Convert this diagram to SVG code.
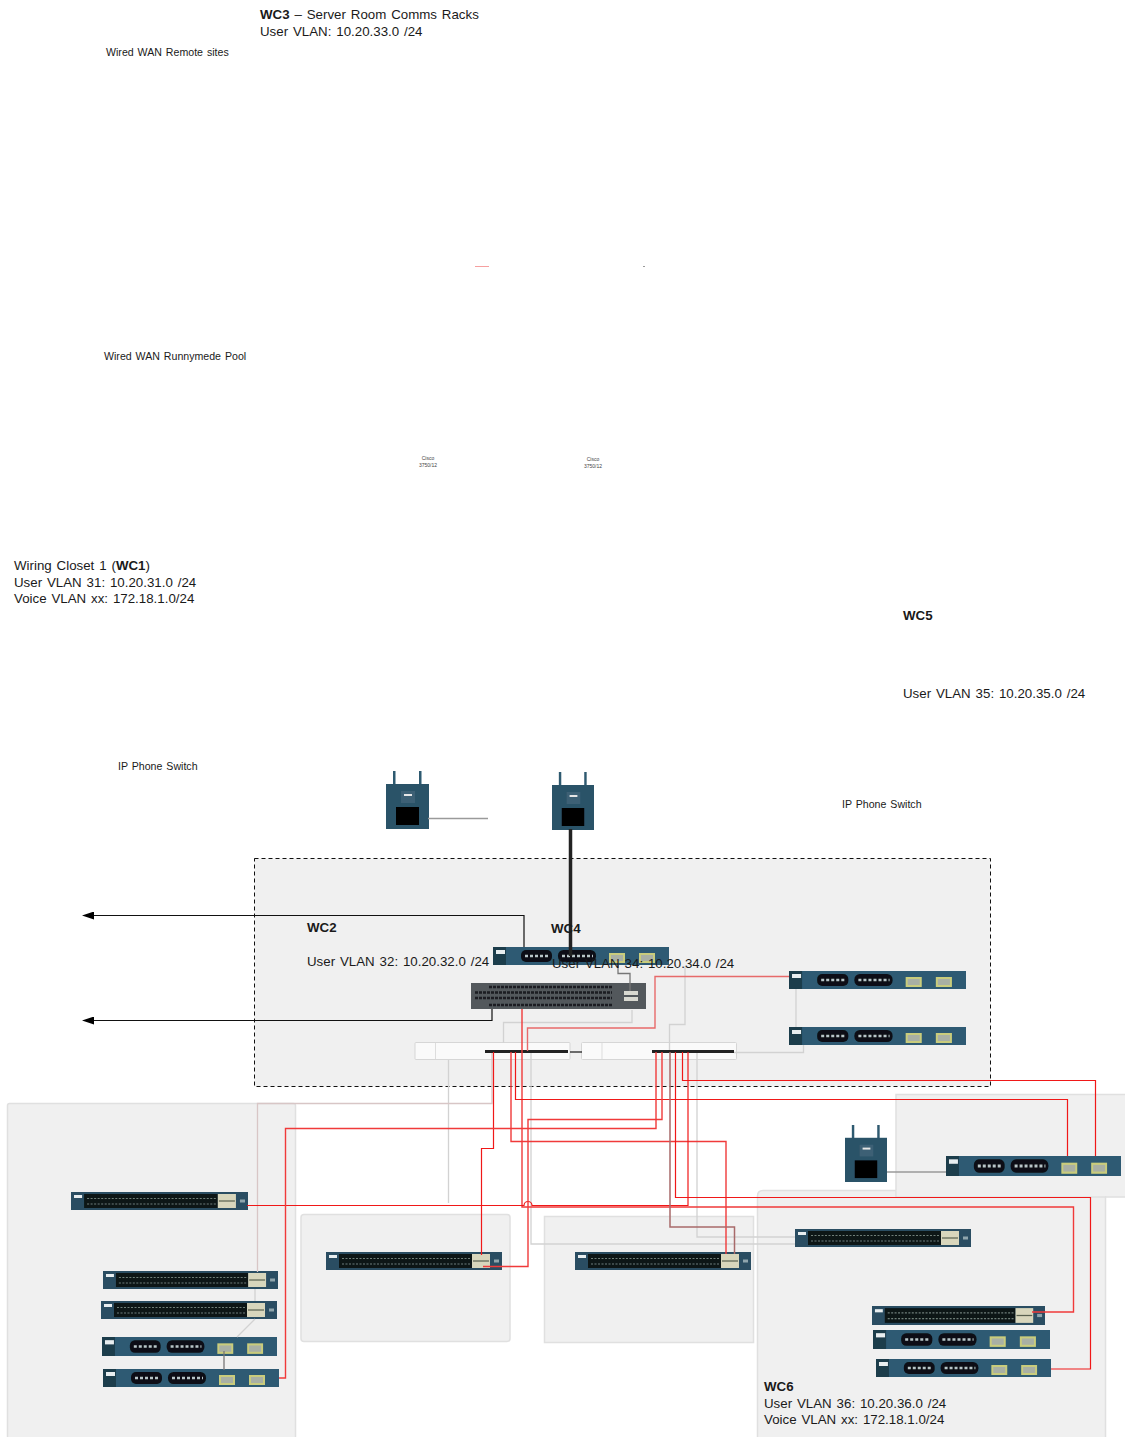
<svg xmlns="http://www.w3.org/2000/svg" width="1125" height="1437" viewBox="0 0 1125 1437">
<style>
text{font-family:"Liberation Sans",Arial,sans-serif;fill:#1a1a1a;word-spacing:1.2px}
.t{font-size:13.3px}.s{font-size:10.6px;word-spacing:1px}.c{font-size:5px;text-anchor:middle;fill:#444;word-spacing:0}
.b{font-weight:bold}
.panel{fill:#f0f0f0;stroke:#e0e0e0;stroke-width:1.5}
.w{fill:none;stroke-linejoin:miter}
.r{stroke:#f01818;stroke-width:1.2}
.p{stroke:#f03a3a;stroke-width:1.4}
.g{stroke:#d2d2d2;stroke-width:1.3}
.dg{stroke:#777;stroke-width:1.3}
.k{stroke:#111;stroke-width:1.2}
.sw{filter:url(#soft)}
</style>
<defs>
<filter id="soft" x="-5%" y="-20%" width="110%" height="140%"><feGaussianBlur stdDeviation="0.5"/></filter>
<symbol id="swA" viewBox="0 0 176 18" preserveAspectRatio="none">
<rect width="176" height="18" fill="#2c4e62"/>
<rect x="3" y="3" width="8" height="3" fill="#e8eef0"/>
<rect x="13" y="2" width="133" height="14" fill="#0f1719"/>
<path d="M16 6.500H145M16 12H145" stroke="#6f7f78" stroke-width="1.200" stroke-dasharray="2 1.500" fill="none"/>
<rect x="146" y="2" width="18" height="14" fill="#d8d6bc"/>
<path d="M147 9H163" stroke="#59604f" stroke-width="1.200"/>
<path d="M168 9H173" stroke="#8fa5ad" stroke-width="3"/>
</symbol>
<symbol id="swB" viewBox="0 0 176 18" preserveAspectRatio="none">
<rect width="176" height="18" fill="#2e5a73"/>
<rect width="13" height="18" fill="#1f3c4c"/>
<rect x="3" y="3" width="9" height="4" fill="#e8eef0"/>
<rect x="28" y="3" width="31" height="12" rx="5" fill="#0c1114"/>
<rect x="65" y="3" width="38" height="12" rx="5.500" fill="#0c1114"/>
<path d="M32 9H56M69 9H100" stroke="#b8c4c8" stroke-width="2.500" stroke-dasharray="3 2" fill="none"/>
<rect x="116" y="6" width="16" height="10" fill="#c9cc7c"/>
<rect x="146" y="6" width="16" height="10" fill="#c9cc7c"/>
<rect x="118" y="8" width="12" height="6" fill="#a9b0a4"/>
<rect x="148" y="8" width="12" height="6" fill="#a9b0a4"/>
</symbol>
<symbol id="ap" viewBox="0 0 43 58" preserveAspectRatio="none">
<path d="M7 0H9.500V14H7ZM33 0H35.500V14H33Z" fill="#2f5a70"/>
<rect y="13" width="43" height="45" fill="#2a5268"/>
<rect x="15" y="20" width="14" height="12" fill="#3c6074"/>
<rect x="18" y="23" width="8" height="2" fill="#e6e6e6"/>
<rect x="10" y="36" width="23" height="18" fill="#000"/>
</symbol>
<marker id="arr" viewBox="0 0 12 8" refX="0" refY="4" markerWidth="12" markerHeight="8" orient="auto" markerUnits="userSpaceOnUse"><path d="M0 0L12 4L0 8Z" fill="#000"/></marker>
</defs>

<g id="wc-backbone-area"><rect x="254.500" y="858.500" width="736" height="228" fill="#f0f0f0" stroke="#111" stroke-width="1" stroke-dasharray="4 3"/></g>
<g id="wc1-area"><rect class="panel" x="7.500" y="1103.500" width="288" height="335" rx="2"/></g>
<g id="wc2-area"><rect class="panel" x="301" y="1214.500" width="209" height="127" rx="3"/></g>
<g id="wc4-area"><rect class="panel" x="544.500" y="1216.500" width="209" height="126"/></g>
<g id="wc5-area"><path class="panel" d="M896 1190V1094.500H1127V1197H1105"/></g>
<g id="wc6-area"><path class="panel" d="M757.500 1438V1196Q757.500 1190.500 763 1190.500H896L896 1190.500V1197H1105.500V1438Z"/><path d="M897 1189H1104V1196H897Z" fill="#f0f0f0"/></g>

<g id="ap1"><use href="#ap" x="386" y="771" width="43" height="58" class="sw"/></g>
<g id="ap2"><use href="#ap" x="552" y="772" width="42" height="58" class="sw"/></g>
<g id="ap3"><use href="#ap" x="845" y="1125" width="42" height="57" class="sw"/></g>

<g id="sw-core-top"><use href="#swB" x="493" y="947" width="176" height="18" class="sw"/></g>
<g id="sw-core-grey"><g class="sw"><rect x="471" y="983" width="175" height="26" fill="#52585c"/>
<path d="M489 987H612M475 992.500H612M475 998H612M489 1005H612" stroke="#1b1e20" stroke-width="2.600" stroke-dasharray="3 1" fill="none"/>
<rect x="624" y="991" width="14" height="4" fill="#d8d8d0"/><rect x="624" y="997" width="14" height="4" fill="#d8d8d0"/></g></g>
<g id="panel-left"><rect x="415" y="1042.500" width="155" height="17" rx="1" fill="#fafafa" stroke="#d6d6d6"/><path d="M435.500 1043V1059" stroke="#ddd"/></g>
<g id="panel-right"><rect x="581.500" y="1042.500" width="155" height="17" rx="1" fill="#fafafa" stroke="#d6d6d6"/><path d="M602 1043V1059" stroke="#ddd"/></g>
<g id="sw-r1"><use href="#swB" x="789" y="971" width="177" height="18" class="sw"/></g>
<g id="sw-r2"><use href="#swB" x="789" y="1027" width="177" height="18" class="sw"/></g>
<g id="sw-wc5"><use href="#swB" x="946" y="1156" width="175" height="20" class="sw"/></g>
<g id="sw-wc1-a"><use href="#swA" x="71" y="1192" width="177" height="18" class="sw"/></g>
<g id="sw-wc1-b"><use href="#swA" x="103" y="1271" width="175" height="18" class="sw"/></g>
<g id="sw-wc1-c"><use href="#swA" x="101" y="1301" width="176" height="18" class="sw"/></g>
<g id="sw-wc1-d"><use href="#swB" x="102" y="1337" width="175" height="19" class="sw"/></g>
<g id="sw-wc1-e"><use href="#swB" x="103" y="1369" width="176" height="18" class="sw"/></g>
<g id="sw-wc2"><use href="#swA" x="326" y="1252" width="176" height="18" class="sw"/></g>
<g id="sw-wc4"><use href="#swA" x="575" y="1252" width="176" height="18" class="sw"/></g>
<g id="sw-wc6-a"><use href="#swA" x="795" y="1229" width="176" height="18" class="sw"/></g>
<g id="sw-wc6-b"><use href="#swA" x="872" y="1306" width="173" height="19" class="sw"/></g>
<g id="sw-wc6-c"><use href="#swB" x="873" y="1330" width="177" height="19" class="sw"/></g>
<g id="sw-wc6-d"><use href="#swB" x="876" y="1359" width="175" height="18" class="sw"/></g>

<g id="connectors" class="w">
<path d="M428 818.500H488" stroke="#9a9a9a" stroke-width="1.500"/>
<path class="g" d="M632 1010V1022.500H503.500V1043"/>
<path class="g" d="M685 966V1024.500H669.500V1051"/>
<path class="g" d="M448.500 1060V1203"/>
<path class="g" d="M531 1052V1244H795"/>
<path class="g" d="M697 1052V1237H795"/>
<path class="g" d="M734 1052.500H803.500V1045"/>
<path class="g" d="M796 989V1027" stroke-width="1"/>
<path d="M492 1052V1103.500H257.500V1272" stroke="#d8c6c6" stroke-width="1.300" fill="none"/>
<path class="g" d="M255 1289V1301M255 1319L237 1337"/>
<path class="dg" d="M224 1351V1370"/>
<path class="dg" d="M618 965V973.500H630V991"/>
<path d="M887 1172H946" stroke="#9a9a9a" stroke-width="1.500"/>
<path d="M570.500 829V956" stroke="#222" stroke-width="3.500" fill="none"/>
<path d="M485 1051.500H568M652 1051.500H734" stroke="#222" stroke-width="3" fill="none"/>
<path d="M570 1052H582" stroke="#111" stroke-width="1.200" fill="none"/>
<path class="k" d="M524 947V915.500H94" marker-end="url(#arr)"/>
<path class="k" d="M492 1009V1020.500H94" stroke="#222" marker-end="url(#arr)"/>
<path class="p" d="M522 1009V1207H1073.500V1312H1032"/>
<path d="M527.500 1051V1028H655V976.500H789" stroke="#e76a6a" stroke-width="1.400"/>
<path class="r" d="M493.500 1052V1148.500H481.500V1255"/>
<path class="p" d="M511 1052V1141.500H726V1254"/>
<path class="r" d="M515.500 1052V1099.500H1067.500V1156"/>
<path class="r" d="M682.500 1052V1080.500H1095.500V1156"/>
<path class="r" d="M247 1205.500H524A4 4 0 0 1 532 1205.500H688V1052"/>
<path class="r" d="M675.500 1052V1197.500H1090.500V1369H1051"/>
<path class="p" d="M662 1052V1119.500H528V1266.500H483"/>
<path class="p" d="M656 1052V1128.500H285.500V1378H279"/>
<path d="M670 1052V1227H734.500V1254" stroke="#a86a6a" stroke-width="1.500" fill="none"/>
<path d="M475 266.500H489" stroke="#f6a0a0" stroke-width="1" fill="none"/>
<path d="M643 266.500H645" stroke="#999" stroke-width="1" fill="none"/>
</g>

<g id="labels">
<text class="t" x="260" y="19"><tspan class="b">WC3</tspan> – Server Room Comms Racks</text>
<text class="t" x="260" y="36">User VLAN: 10.20.33.0 /24</text>
<text class="s" x="106" y="56">Wired WAN Remote sites</text>
<text class="s" x="104" y="360">Wired WAN Runnymede Pool</text>
<text class="c" x="428" y="460">Cisco</text><text class="c" x="428" y="467">3750/12</text>
<text class="c" x="593" y="461">Cisco</text><text class="c" x="593" y="468">3750/12</text>
<text class="t" x="14" y="570">Wiring Closet 1 (<tspan class="b">WC1</tspan>)</text>
<text class="t" x="14" y="587">User VLAN 31: 10.20.31.0 /24</text>
<text class="t" x="14" y="603">Voice VLAN xx: 172.18.1.0/24</text>
<text class="t b" x="903" y="620">WC5</text>
<text class="t" x="903" y="698">User VLAN 35: 10.20.35.0 /24</text>
<text class="s" x="118" y="770">IP Phone Switch</text>
<text class="s" x="842" y="808">IP Phone Switch</text>
<text class="t b" x="307" y="932">WC2</text>
<text class="t" x="307" y="966">User VLAN 32: 10.20.32.0 /24</text>
<text class="t b" x="551" y="933">WC4</text>
<text class="t" x="552" y="968">User VLAN 34: 10.20.34.0 /24</text>
<text class="t b" x="764" y="1391">WC6</text>
<text class="t" x="764" y="1408">User VLAN 36: 10.20.36.0 /24</text>
<text class="t" x="764" y="1424">Voice VLAN xx: 172.18.1.0/24</text>
</g>
</svg>
